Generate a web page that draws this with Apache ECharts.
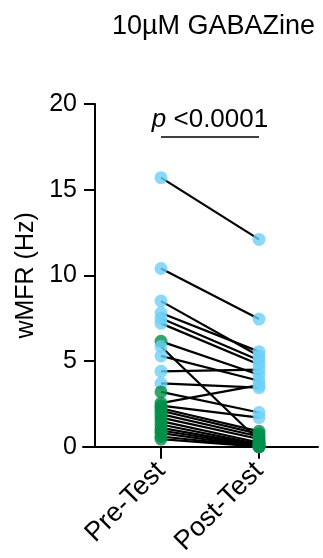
<!DOCTYPE html>
<html>
<head>
<meta charset="utf-8">
<script src="https://cdn.jsdelivr.net/npm/echarts@6/dist/echarts.min.js"></script>
<style>
html,body{margin:0;padding:0;background:#fff;}
#c{width:323px;height:558px;}
</style>
</head>
<body>
<div id="c"></div>
<script>
var categories = ['Pre-Test', 'Post-Test'];
var titleText = '10\u00B5M GABAZine';
var yAxisName = 'wMFR (Hz)';
var pText = '<0.0001';
var bracketLevel = 18.1;
var yTicks = [0, 5, 10, 15, 20];

var preValues  = [15.7, 10.4, 8.5, 7.8, 7.5, 7.2, 6.15, 5.85, 5.3, 4.4, 3.7, 3.2, 2.55, 2.4, 2.25, 2.1, 1.9, 1.7, 1.5, 1.3, 1.1, 0.95, 0.8, 0.6, 0.45];
var postValues = [12.1, 7.45, 5.3, 5.55, 5.05, 4.8, 4.2, 0.35, 3.85, 4.5, 3.45, 2.0, 3.6, 1.7, 0.9, 0.75, 0.6, 0.45, 0.25, 0.15, 0.1, 0.05, 0, 0, 0];
var preGroup   = ['b','b','b','b','b','b','g','b','b','b','b','g','g','g','g','g','g','g','g','g','g','g','g','g','g'];
var postGroup  = ['b','b','b','b','b','b','b','g','b','b','b','b','b','b','g','g','g','g','g','g','g','g','g','g','g'];

var BLUE = '#6DCFF6', GREEN = '#00904A';
function col(g){ return g === 'g' ? GREEN : BLUE; }

var lineData = preValues.map(function(v, i){
  return { coords: [[0, v], [1, postValues[i]]] };
});
var pointData = [];
preValues.forEach(function(v, i){ pointData.push({ value: [0, v], itemStyle: { color: col(preGroup[i]) } }); });
postValues.forEach(function(v, i){ pointData.push({ value: [1, v], itemStyle: { color: col(postGroup[i]) } }); });

var FONT = 'Liberation Sans, Arial, sans-serif';
var chart = echarts.init(document.getElementById('c'), null, { renderer: 'canvas' });
chart.setOption({
  animation: false,
  backgroundColor: '#fff',
  title: {
    text: titleText, left: 107, top: 8,
    textStyle: { fontFamily: FONT, fontSize: 27, fontWeight: 'normal', color: '#000' }
  },
  grid: { left: 83, right: 5, top: 104, bottom: 111, containLabel: false },
  xAxis: {
    type: 'value', min: -0.796, max: 1.602,
    axisLine: { show: true, onZero: false, lineStyle: { color: '#000', width: 2 } },
    axisTick: { show: true, customValues: [0, 1], length: 12, lineStyle: { color: '#000', width: 2 } },
    axisLabel: {
      customValues: [0, 1], rotate: 45, margin: 20,
      fontFamily: FONT, fontSize: 27, color: '#000',
      formatter: function(v){ return categories[Math.round(v)] || ''; }
    },
    splitLine: { show: false }
  },
  yAxis: {
    type: 'value', min: 0, max: 20, interval: 5, offset: -12,
    name: yAxisName, nameLocation: 'middle', nameGap: 55, nameRotate: 90,
    nameTextStyle: { fontFamily: FONT, fontSize: 25, color: '#000' },
    axisLine: { show: true, onZero: false, lineStyle: { color: '#000', width: 2 } },
    axisTick: { show: true, length: 11, lineStyle: { color: '#000', width: 2 } },
    axisLabel: { fontFamily: FONT, fontSize: 25, color: '#000', margin: 18 },
    splitLine: { show: false }
  },
  series: [
    {
      type: 'lines', coordinateSystem: 'cartesian2d', z: 2,
      lineStyle: { color: '#000', width: 2.2, opacity: 1 },
      data: lineData,
      markLine: {
        symbol: 'none', silent: true,
        lineStyle: { color: '#000', width: 1.5, type: 'solid' },
        label: {
          show: true, position: 'middle', distance: 4,
          formatter: '{i|p} ' + pText,
          fontFamily: FONT, fontSize: 26, color: '#000',
          rich: { i: { fontStyle: 'italic', fontFamily: FONT, fontSize: 26, color: '#000' } }
        },
        data: [[{ coord: [0, bracketLevel] }, { coord: [1, bracketLevel] }]]
      }
    },
    {
      type: 'scatter', z: 3, symbol: 'circle', symbolSize: 13,
      data: pointData
    }
  ]
});
</script>
</body>
</html>
